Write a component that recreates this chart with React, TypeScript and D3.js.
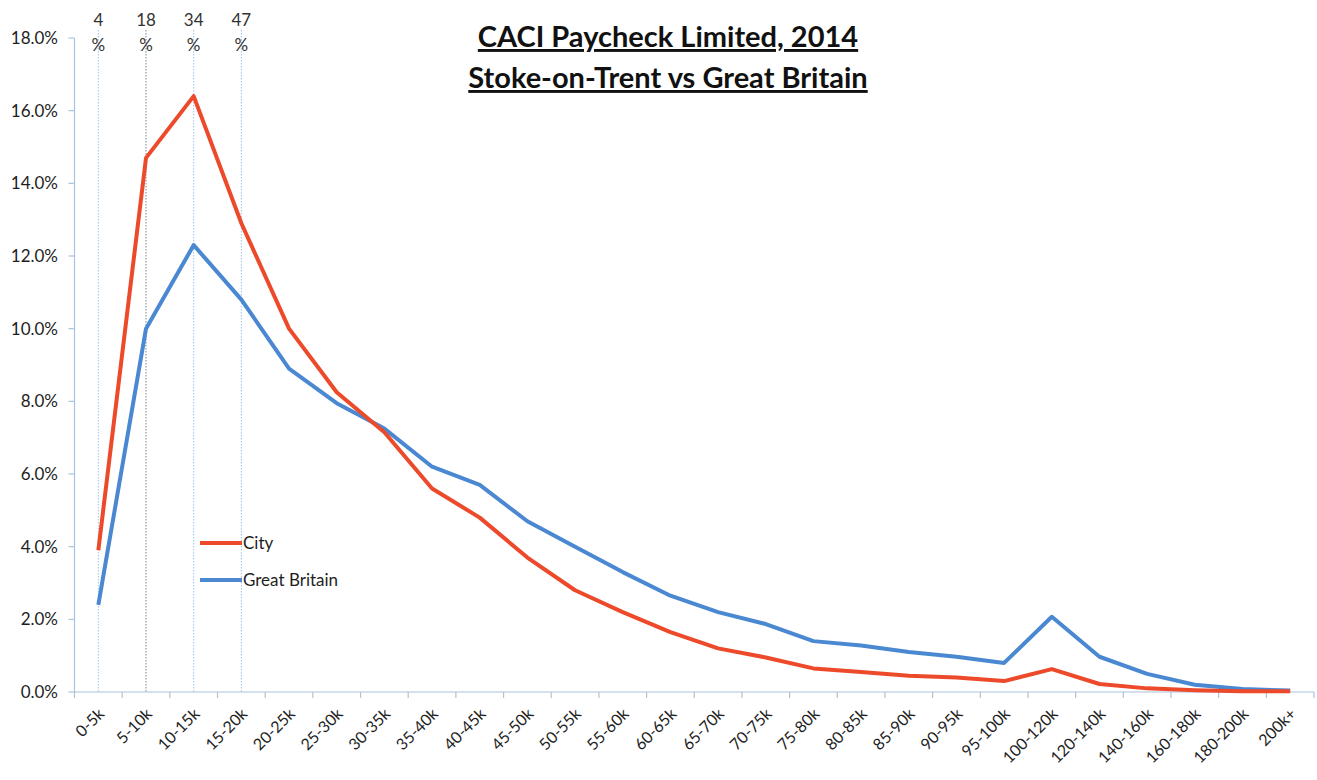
import React from 'react';
import * as d3 from 'd3';

const categories = [
  '0-5k', '5-10k', '10-15k', '15-20k', '20-25k', '25-30k', '30-35k', '35-40k', '40-45k',
  '45-50k', '50-55k', '55-60k', '60-65k', '65-70k', '70-75k', '75-80k', '80-85k', '85-90k',
  '90-95k', '95-100k', '100-120k', '120-140k', '140-160k', '160-180k', '180-200k', '200k+',
];
const city = [
  3.9, 14.7, 16.4, 12.9, 10.0, 8.25, 7.15, 5.6, 4.8, 3.7, 2.8, 2.2, 1.65, 1.2, 0.95,
  0.65, 0.55, 0.45, 0.4, 0.3, 0.63, 0.22, 0.1, 0.05, 0.02, 0.02,
];
const greatBritain = [
  2.4, 10.0, 12.3, 10.8, 8.9, 7.95, 7.25, 6.2, 5.7, 4.7, 4.0, 3.3, 2.65, 2.2, 1.87,
  1.4, 1.28, 1.1, 0.97, 0.8, 2.07, 0.97, 0.5, 0.2, 0.08, 0.04,
];
const yTicks = [0, 2, 4, 6, 8, 10, 12, 14, 16, 18];
// cumulative share markers above the first four bands
const markerCats = ['0-5k', '5-10k', '10-15k', '15-20k'];
const markerLabels = ['4', '18', '34', '47'];

const W = 1317;
const H = 780;
const left = 74.5;
const right = 1314;
const top = 38;
const bottom = 692;
const font = 'Lato, Calibri, "Open Sans", sans-serif';
const red = '#EC4A2A';
const blue = '#4A88D2';
const axisCol = '#A9C4DC';
const textCol = '#1e1e1e';

export default function App() {
  const x = d3.scaleBand().domain(categories).range([left, right]);
  const cx = (c) => x(c) + x.bandwidth() / 2;
  const y = d3.scaleLinear().domain([0, 18]).range([bottom, top]);
  const line = d3.line<number>().x((d, i) => cx(categories[i])).y((d) => y(d));

  return (
    <svg width={W} height={H} style={{ position: 'absolute', left: 0, top: 0, background: '#fff' }}>
      {/* marker verticals */}
      {markerCats.map((c, i) => (
        <line key={c} x1={cx(c)} x2={cx(c)} y1={top - 8} y2={bottom}
          stroke={i === 1 ? '#7a8490' : '#9cc3e6'} strokeWidth={1} strokeDasharray="1.5,1.5" />
      ))}
      {markerCats.map((c, i) => (
        <g key={'m' + c} fontFamily={font} fontSize={17} fill="#333" textAnchor="middle">
          <text x={cx(c)} y={26}>{markerLabels[i]}</text>
          <text x={cx(c)} y={51}>%</text>
        </g>
      ))}

      {/* y axis */}
      <line x1={left} x2={left} y1={top} y2={bottom} stroke={axisCol} strokeWidth={1.2} />
      {yTicks.map((t) => (
        <g key={t}>
          <line x1={left - 6} x2={left} y1={y(t)} y2={y(t)} stroke={axisCol} strokeWidth={1.2} />
          <text x={58} y={y(t)} dy="0.35em" textAnchor="end" fontFamily={font} fontSize={17} fill={textCol}>
            {t.toFixed(1)}%
          </text>
        </g>
      ))}

      {/* x axis */}
      <line x1={left} x2={right} y1={bottom} y2={bottom} stroke={axisCol} strokeWidth={1.2} />
      {categories.map((c) => (
        <line key={'t' + c} x1={x(c)} x2={x(c)} y1={bottom} y2={bottom + 6} stroke={axisCol} strokeWidth={1.2} />
      ))}
      <line x1={right} x2={right} y1={bottom} y2={bottom + 6} stroke={axisCol} strokeWidth={1.2} />
      {categories.map((c) => (
        <text key={'l' + c} transform={`translate(${cx(c) + 7},${bottom + 23}) rotate(-45)`}
          textAnchor="end" fontFamily={font} fontSize={16} fill={textCol}>
          {c}
        </text>
      ))}

      {/* series */}
      <path d={line(greatBritain)} fill="none" stroke={blue} strokeWidth={4} strokeLinejoin="round" />
      <path d={line(city)} fill="none" stroke={red} strokeWidth={4} strokeLinejoin="round" />

      {/* legend */}
      <line x1={200} x2={242} y1={543} y2={543} stroke={red} strokeWidth={4} />
      <text x={243} y={543} dy="0.35em" fontFamily={font} fontSize={17} fill={textCol}>City</text>
      <line x1={200} x2={242} y1={580} y2={580} stroke={blue} strokeWidth={4} />
      <text x={243} y={580} dy="0.35em" fontFamily={font} fontSize={17} fill={textCol}>Great Britain</text>

      {/* title */}
      <g fontFamily={font} fontSize={29} fontWeight="bold" fill="#111" textAnchor="middle">
        <text x={668} y={47} textDecoration="underline">CACI Paycheck Limited, 2014</text>
        <text x={668} y={88} textDecoration="underline">Stoke-on-Trent vs Great Britain</text>
      </g>
    </svg>
  );
}
